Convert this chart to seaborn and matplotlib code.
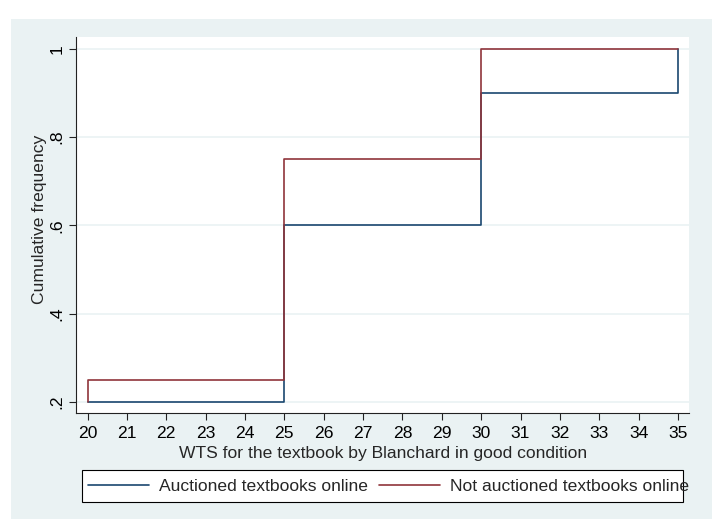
import matplotlib
matplotlib.use("Agg")
import matplotlib.pyplot as plt
from matplotlib.patches import Rectangle
import seaborn as sns
import pandas as pd

# Cumulative frequency of willingness-to-sell (WTS) by group
groups = ["Auctioned textbooks online", "Not auctioned textbooks online"]
wts_auctioned = [20, 25, 30, 35]
cum_auctioned = [0.2, 0.6, 0.9, 1.0]
wts_not_auctioned = [20, 20, 25, 30, 35]
cum_not_auctioned = [0.2, 0.25, 0.75, 1.0, 1.0]

x_ticks = list(range(20, 36))
y_ticks = [0.2, 0.4, 0.6, 0.8, 1.0]
y_tick_labels = [".2", ".4", ".6", ".8", "1"]

df = pd.concat([
    pd.DataFrame({"wts": wts_auctioned, "cum": cum_auctioned, "group": groups[0]}),
    pd.DataFrame({"wts": wts_not_auctioned, "cum": cum_not_auctioned, "group": groups[1]}),
], ignore_index=True)

sns.set_style("ticks")
plt.rcParams["font.family"] = ["Liberation Sans", "DejaVu Sans"]
fs = 12.6

W, H = 712, 519
fig = plt.figure(figsize=(W / 100, H / 100), dpi=100, facecolor="white")

# light bluish-gray graph region
fig.patches.append(Rectangle((11 / W, 0), 1 - 11 / W, (H - 19) / H,
                             transform=fig.transFigure, facecolor="#eaf2f3",
                             edgecolor="none", zorder=-5))

ax = fig.add_axes([75.5 / W, (H - 412.5) / H, (689 - 75.5) / W, (412.5 - 37) / H])
ax.set_facecolor("white")

palette = {groups[0]: "#1a476f", groups[1]: "#90353b"}
sns.lineplot(data=df, x="wts", y="cum", hue="group", palette=palette,
             estimator=None, drawstyle="steps-post", linewidth=1.2,
             legend=False, ax=ax, zorder=3)

ax.set_xlim(19.695, 35.28)
ax.set_ylim(0.176, 1.027)
ax.set_xticks(x_ticks)
ax.set_xticklabels([str(v) for v in x_ticks])
ax.set_yticks(y_ticks)
ax.set_yticklabels(y_tick_labels, rotation=90, va="center")

ax.grid(axis="y", color="#eaf2f3", linewidth=1.2, zorder=0)
ax.grid(axis="x", visible=False)
sns.despine(ax=ax)
for side in ("left", "bottom"):
    ax.spines[side].set_color("#222222")
    ax.spines[side].set_linewidth(0.8)

ax.tick_params(axis="both", direction="out", length=5, width=0.8,
               color="#222222", labelsize=fs, labelcolor="black")
ax.tick_params(axis="x", pad=5)
ax.tick_params(axis="y", pad=3)

ax.set_xlabel("WTS for the textbook by Blanchard in good condition", fontsize=fs)
ax.set_ylabel("Cumulative frequency", fontsize=fs)
ax.xaxis.set_label_coords(0.502, -0.088)
ax.yaxis.set_label_coords(-0.047, 0.513)

# legend below the plot, with a rectangular frame
handles = ax.get_lines()[:2]
leg = fig.legend(handles, groups, loc="center left",
                 bbox_to_anchor=(88 / W, (H - 486) / H), ncol=2,
                 frameon=False, fontsize=fs, handlelength=3.5,
                 handletextpad=0.58, columnspacing=0.58,
                 borderaxespad=0, borderpad=0)
fig.patches.append(Rectangle((82 / W, (H - 502) / H), (683 - 82) / W, 32 / H,
                             transform=fig.transFigure, facecolor="white",
                             edgecolor="black", linewidth=0.8, zorder=1))

fig.savefig("out.png", dpi=100, facecolor="white")
